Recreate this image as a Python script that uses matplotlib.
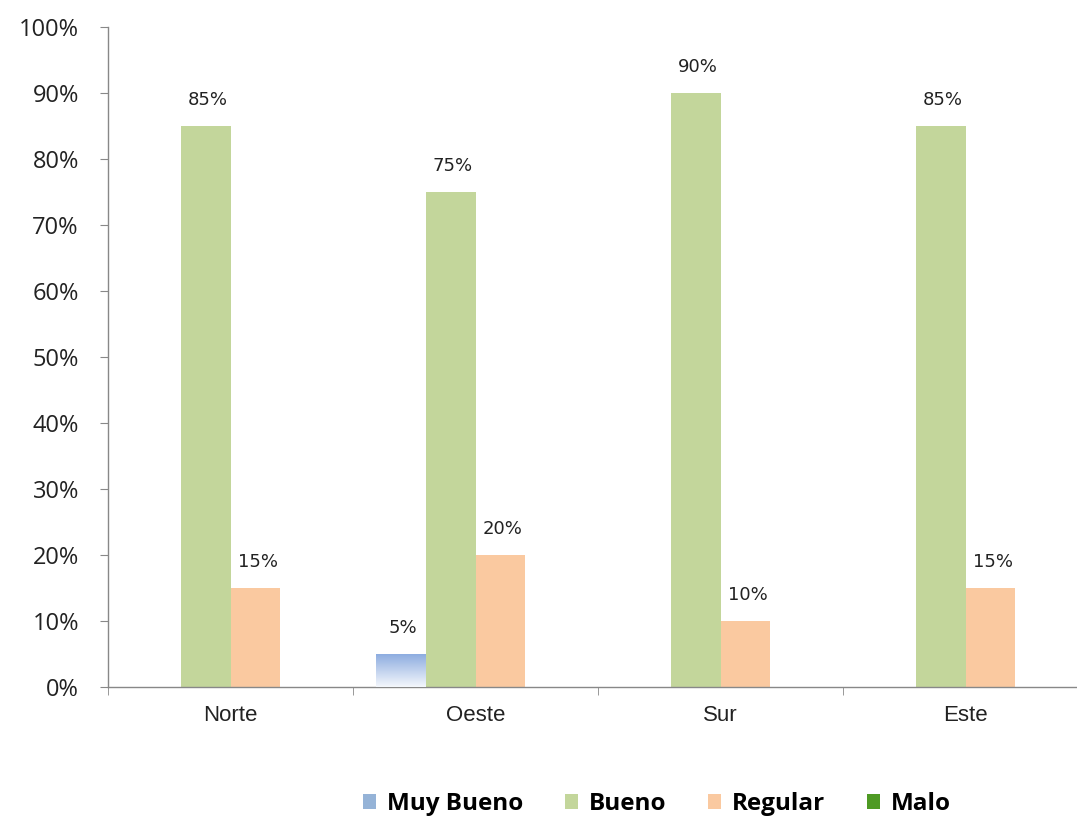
import matplotlib
matplotlib.use("Agg")
import matplotlib.pyplot as plt
import numpy as np
from matplotlib.patches import Patch
from matplotlib.colors import LinearSegmentedColormap

categories = ["Norte", "Oeste", "Sur", "Este"]
series_names = ["Muy Bueno", "Bueno", "Regular", "Malo"]
muy_bueno = [0, 5, 0, 0]
bueno = [85, 75, 90, 85]
regular = [15, 20, 10, 15]
malo = [0, 0, 0, 0]
y_ticks = [0, 10, 20, 30, 40, 50, 60, 70, 80, 90, 100]

colors = ["#95B3D7", "#C3D69B", "#FAC9A0", "#4E9A24"]
series = [muy_bueno, bueno, regular, malo]

fig = plt.figure(figsize=(10.77, 8.19), dpi=100)
ax = fig.add_axes([108/1077, 1 - 687/819, 969/1077, 660/819])

x = np.arange(len(categories))
w = 0.204
offsets = [-1.5*w, -0.5*w, 0.5*w, 1.5*w]
grad_cmap = LinearSegmentedColormap.from_list("g", ["#F4F7FC", "#8EADE0"])

for vals, col, off, name in zip(series, colors, offsets, series_names):
    bars = ax.bar(x + off, vals, width=w, color=col, linewidth=0, zorder=2)
    for b, v in zip(bars, vals):
        if v <= 0:
            continue
        if name == "Muy Bueno":
            x0, y0 = b.get_x(), b.get_y()
            grad = np.linspace(0, 1, 100).reshape(-1, 1)
            im = ax.imshow(grad, cmap=grad_cmap, aspect="auto", origin="lower",
                           extent=[x0, x0 + b.get_width(), y0, y0 + b.get_height()],
                           zorder=3)
            im.set_clip_path(b)
        ax.annotate(f"{v}%", (b.get_x() + b.get_width()/2 + 0.01, v),
                    xytext=(0, 12), textcoords="offset points",
                    ha="center", va="bottom", fontsize=13,
                    family="DejaVu Sans", color="#222222")

ax.set_yticks(y_ticks)
ax.set_yticklabels([f"{t}%" for t in y_ticks], fontsize=17, family="Open Sans", color="#222222")
ax.set_xticks(x)
ax.set_xticklabels(categories, fontsize=16, family="Liberation Sans", color="#222222")
ax.tick_params(axis="x", length=0, pad=13)
ax.set_xticks(np.arange(len(categories) + 1) - 0.5, minor=True)
ax.tick_params(axis="x", which="minor", length=6, color="#888888", direction="out")
ax.tick_params(axis="y", length=6, color="#888888", direction="out", pad=15)
ax.set_xlim(-0.5, -0.5 + 969/245)
ax.set_ylim(0, 100)

for s in ["top", "right"]:
    ax.spines[s].set_visible(False)
for s in ["left", "bottom"]:
    ax.spines[s].set_color("#888888")
    ax.spines[s].set_linewidth(1)

handles = [Patch(facecolor=c, edgecolor="none") for c in colors]
leg = fig.legend(handles, series_names, loc="center", bbox_to_anchor=(657/1077, 1 - 804/819),
                 ncol=4, frameon=False, prop={"family": "Open Sans", "weight": "bold", "size": 17.5},
                 handlelength=0.55, handleheight=0.55, handletextpad=0.45, columnspacing=1.7)

fig.savefig("out.png", dpi=100)
